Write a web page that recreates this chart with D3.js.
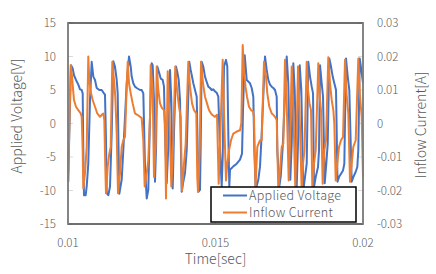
<!DOCTYPE html>
<html>
<head>
<meta charset="utf-8">
<script src="https://cdn.jsdelivr.net/npm/d3@7"></script>
<style>
  body { margin: 0; background: #fff; }
  svg text { font-family: "Noto Sans CJK JP", "Noto Sans", sans-serif; font-weight: 300; fill: #595959; }
</style>
</head>
<body>
<div id="chart"></div>
<script>
// data (time in sec)
const voltTime = [0.010010,0.010044,0.010102,0.010159,0.010203,0.010271,0.010349,0.010407,0.010464,0.010498,0.010519,0.010542,0.010600,0.010634,0.010688,0.010746,0.010803,0.010858,0.010915,0.010973,0.011061,0.011142,0.011220,0.011254,0.011288,0.011312,0.011366,0.011424,0.011481,0.011536,0.011593,0.011651,0.011685,0.011705,0.011739,0.011820,0.011875,0.011990,0.012068,0.012126,0.012159,0.012214,0.012271,0.012329,0.012441,0.012498,0.012553,0.012610,0.012668,0.012722,0.012780,0.012837,0.012871,0.012915,0.012949,0.012983,0.013027,0.013095,0.013143,0.013210,0.013254,0.013288,0.013346,0.013400,0.013458,0.013502,0.013549,0.013593,0.013661,0.013705,0.013753,0.013797,0.013854,0.013909,0.013966,0.014024,0.014112,0.014159,0.014204,0.014248,0.014305,0.014363,0.014397,0.014417,0.014475,0.014499,0.014532,0.014587,0.014644,0.014702,0.014756,0.014814,0.014871,0.014926,0.014983,0.015041,0.015095,0.015153,0.015210,0.015244,0.015288,0.015356,0.015400,0.015434,0.015468,0.015492,0.015604,0.015719,0.015831,0.015899,0.015933,0.015990,0.016058,0.016170,0.016227,0.016282,0.016316,0.016363,0.016451,0.016509,0.016566,0.016678,0.016736,0.016790,0.016848,0.016905,0.016960,0.017017,0.017075,0.017095,0.017163,0.017211,0.017278,0.017414,0.017468,0.017536,0.017583,0.017638,0.017685,0.017753,0.017797,0.017855,0.017909,0.017977,0.018034,0.018092,0.018146,0.018204,0.018261,0.018306,0.018339,0.018397,0.018475,0.018509,0.018543,0.018600,0.018645,0.018702,0.018756,0.018804,0.018858,0.018916,0.018973,0.019028,0.019085,0.019136,0.019187,0.019255,0.019323,0.019367,0.019424,0.019482,0.019536,0.019617,0.019672,0.019753,0.019807,0.019841,0.019889,0.019943,0.020000];
const voltage = [-8.7,-1.5,8.7,8.2,7.2,6.5,5.8,5.1,5.0,4.5,-4.0,-10.7,-10.7,-9.4,-6.0,3.5,9.2,7.0,6.5,5.3,5.0,5.0,4.5,4.3,-2.5,-10.4,-10.7,-9.4,-1.5,9.3,8.5,6.5,4.5,-1.5,-10.5,-8.4,-4.0,6.0,10.0,8.5,7.0,6.0,5.5,5.3,5.0,5.0,4.5,-6.4,-11.2,-9.9,1.0,9.0,8.7,3.5,-8.7,-4.0,8.5,7.5,6.7,6.5,5.5,-1.5,-8.9,-3.5,8.0,3.5,-9.7,-1.5,8.5,7.7,6.5,3.5,-10.2,-8.7,-7.4,-4.0,9.2,8.0,7.0,6.0,5.0,4.0,-4.0,-10.2,-9.9,-3.0,9.2,8.5,7.0,6.2,5.5,5.3,5.0,5.1,4.8,4.6,4.0,-4.0,-9.4,-5.0,8.5,9.5,8.5,-1.5,-9.4,-6.9,-6.4,-6.0,-5.4,-4.5,2.0,10.2,6.5,6.0,5.3,4.0,-4.0,-9.9,-8.4,-6.4,-1.5,10.0,8.0,6.5,5.8,5.5,5.3,5.0,4.0,-4.0,-9.4,-7.9,-3.5,10.0,6.0,-8.4,-3.0,9.0,5.0,-9.4,-3.0,8.7,5.0,-10.0,-8.0,-6.0,9.2,7.0,5.5,4.5,-9.5,-8.0,-6.5,-4.0,8.7,6.0,4.0,-8.9,-6.0,-3.0,9.7,8.5,7.0,6.0,5.0,-8.7,-8.0,-7.5,-7.0,-6.0,9.7,7.0,5.0,-8.7,-8.0,-7.2,-6.5,-4.0,9.7,8.0,6.0];

const currTime = [0.010010,0.010092,0.010136,0.010203,0.010271,0.010349,0.010431,0.010464,0.010498,0.010519,0.010576,0.010634,0.010688,0.010722,0.010780,0.010837,0.010915,0.010993,0.011085,0.011142,0.011197,0.011231,0.011264,0.011288,0.011346,0.011400,0.011448,0.011502,0.011559,0.011603,0.011651,0.011695,0.011763,0.011820,0.011875,0.011932,0.011990,0.012024,0.012068,0.012126,0.012193,0.012271,0.012349,0.012441,0.012498,0.012553,0.012600,0.012668,0.012722,0.012780,0.012803,0.012871,0.012915,0.012973,0.013007,0.013061,0.013119,0.013186,0.013254,0.013288,0.013322,0.013380,0.013434,0.013502,0.013549,0.013637,0.013695,0.013763,0.013820,0.013864,0.013932,0.013990,0.014078,0.014136,0.014204,0.014271,0.014349,0.014383,0.014407,0.014465,0.014509,0.014577,0.014644,0.014712,0.014780,0.014848,0.014915,0.014983,0.015051,0.015108,0.015176,0.015244,0.015298,0.015356,0.015400,0.015458,0.015526,0.015604,0.015719,0.015831,0.015875,0.015922,0.015966,0.016017,0.016068,0.016136,0.016204,0.016271,0.016305,0.016356,0.016417,0.016509,0.016566,0.016644,0.016712,0.016756,0.016824,0.016905,0.016960,0.017017,0.017075,0.017129,0.017187,0.017244,0.017299,0.017356,0.017414,0.017482,0.017526,0.017583,0.017638,0.017705,0.017746,0.017797,0.017848,0.017922,0.017966,0.018017,0.018092,0.018136,0.018187,0.018238,0.018282,0.018339,0.018397,0.018485,0.018532,0.018577,0.018634,0.018688,0.018746,0.018824,0.018882,0.018939,0.018994,0.019028,0.019075,0.019129,0.019187,0.019255,0.019323,0.019390,0.019448,0.019502,0.019560,0.019617,0.019672,0.019753,0.019841,0.019899,0.019956,0.020000];
const current = [-0.0148,0.0174,0.0140,0.0070,0.0050,0.0040,0.0030,0.0020,-0.0080,-0.0194,-0.0148,-0.0070,0.0200,0.0130,0.0090,0.0070,0.0050,0.0030,0.0020,0.0026,0.0030,0.0010,-0.0128,-0.0208,-0.0128,-0.0090,-0.0070,0.0184,0.0130,0.0080,-0.0030,-0.0208,-0.0148,-0.0070,-0.0050,-0.0040,0.0110,0.0184,0.0120,0.0090,0.0060,0.0030,0.0026,0.0020,0.0016,-0.0050,-0.0188,-0.0148,-0.0110,0.0020,0.0174,0.0100,-0.0160,-0.0060,0.0170,0.0100,0.0060,0.0046,0.0040,0.0000,-0.0224,0.0156,0.0040,-0.0188,-0.0100,0.0170,0.0100,0.0050,0.0020,-0.0200,-0.0120,-0.0060,0.0184,0.0110,0.0060,0.0040,0.0030,-0.0160,-0.0204,-0.0080,0.0184,0.0120,0.0080,0.0060,0.0040,0.0030,0.0024,0.0020,0.0026,-0.0180,0.0000,0.0190,0.0000,-0.0170,-0.0120,-0.0080,-0.0050,-0.0030,-0.0024,-0.0020,0.0000,0.0234,0.0160,0.0110,0.0080,0.0050,0.0040,0.0036,0.0020,-0.0190,-0.0070,-0.0050,-0.0050,0.0184,0.0140,0.0090,0.0050,0.0030,0.0026,0.0020,0.0010,-0.0198,-0.0140,-0.0070,-0.0060,0.0190,0.0060,-0.0170,-0.0060,0.0170,0.0040,-0.0190,-0.0060,0.0170,0.0040,-0.0200,-0.0120,-0.0080,0.0184,0.0100,0.0060,0.0040,-0.0190,-0.0120,-0.0080,0.0180,0.0080,0.0040,-0.0180,-0.0080,-0.0050,0.0198,0.0120,0.0070,0.0040,0.0000,-0.0170,-0.0120,-0.0070,-0.0050,-0.0040,0.0190,0.0080,0.0030,-0.0174,-0.0120,-0.0070,-0.0050,0.0194,0.0080,0.0020,-0.0160];

const xTicks = [0.01, 0.015, 0.02];
const xTickLabels = ["0.01", "0.015", "0.02"];
const yLeftTicks = [15, 10, 5, 0, -5, -10, -15];
const yRightTicks = [0.03, 0.02, 0.01, 0, -0.01, -0.02, -0.03];
const yRightLabels = ["0.03", "0.02", "0.01", "0", "-0.01", "-0.02", "-0.03"];
const seriesNames = ["Applied Voltage", "Inflow Current"];
const colors = ["#4472C4", "#ED7D31"];

const width = 436, height = 274;
const margin = {top: 23, right: 73, bottom: 50, left: 68};
const innerWidth = width - margin.left - margin.right;
const innerHeight = height - margin.top - margin.bottom;

const svg = d3.select("#chart").append("svg")
    .attr("width", width).attr("height", height);

const g = svg.append("g")
    .attr("transform", `translate(${margin.left},${margin.top})`);

const xScale = d3.scaleLinear().domain([0.01, 0.02]).range([0, innerWidth]);
const yLeft = d3.scaleLinear().domain([-15, 15]).range([innerHeight, 0]);
const yRight = d3.scaleLinear().domain([-0.03, 0.03]).range([innerHeight, 0]);

// small inner tick marks
yLeftTicks.forEach(v => {
    g.append("line").attr("x1", 0).attr("x2", 5)
        .attr("y1", yLeft(v)).attr("y2", yLeft(v))
        .attr("stroke", "#d9d9d9").attr("stroke-width", 1);
});
yRightTicks.forEach(v => {
    g.append("line").attr("x1", innerWidth - 5).attr("x2", innerWidth)
        .attr("y1", yRight(v)).attr("y2", yRight(v))
        .attr("stroke", "#d9d9d9").attr("stroke-width", 1);
});
xTicks.forEach(v => {
    g.append("line").attr("x1", xScale(v)).attr("x2", xScale(v))
        .attr("y1", innerHeight - 5).attr("y2", innerHeight)
        .attr("stroke", "#d9d9d9").attr("stroke-width", 1);
});

const voltData = voltTime.map((t, i) => ({t: t, v: voltage[i]}));
const currData = currTime.map((t, i) => ({t: t, v: current[i]}));

g.append("path").datum(voltData)
    .attr("fill", "none").attr("stroke", colors[0]).attr("stroke-width", 2)
    .attr("stroke-linejoin", "round")
    .attr("d", d3.line().x(d => xScale(d.t)).y(d => yLeft(d.v)));

g.append("path").datum(currData)
    .attr("fill", "none").attr("stroke", colors[1]).attr("stroke-width", 2)
    .attr("stroke-linejoin", "round")
    .attr("d", d3.line().x(d => xScale(d.t)).y(d => yRight(d.v)));

// plot frame: dark border, grey axis lines on the sides
g.append("rect")
    .attr("width", innerWidth).attr("height", innerHeight)
    .attr("fill", "none").attr("stroke", "#404040").attr("stroke-width", 1.5);
[0, innerWidth].forEach(xx => {
    g.append("line").attr("x1", xx).attr("x2", xx).attr("y1", 0).attr("y2", innerHeight)
        .attr("stroke", "#8c8c8c").attr("stroke-width", 1.5);
});

// tick labels
yLeftTicks.forEach(v => {
    g.append("text").attr("x", -12).attr("y", yLeft(v)).attr("dy", "0.35em")
        .attr("text-anchor", "end").style("font-size", "11.5px").text(v);
});
yRightTicks.forEach((v, i) => {
    g.append("text").attr("x", innerWidth + 14).attr("y", yRight(v)).attr("dy", "0.35em")
        .style("font-size", "11.5px").text(yRightLabels[i]);
});
xTicks.forEach((v, i) => {
    g.append("text").attr("x", xScale(v)).attr("y", innerHeight + 19).attr("dy", "0.35em")
        .attr("text-anchor", "middle").style("font-size", "11.5px").text(xTickLabels[i]);
});

// axis titles
svg.append("text").attr("x", margin.left + innerWidth / 2).attr("y", 264)
    .attr("text-anchor", "middle").style("font-size", "14px").text("Time[sec]");
svg.append("text").attr("transform", "translate(22,116) rotate(-90)")
    .attr("text-anchor", "middle").style("font-size", "14px").text("Applied Voltage[V]");
svg.append("text").attr("transform", "translate(426,125) rotate(-90)")
    .attr("text-anchor", "middle").style("font-size", "14px").text("Inflow Current[A]");

// legend
const legend = svg.append("g").attr("transform", "translate(211,187)");
legend.append("rect").attr("width", 145).attr("height", 35)
    .attr("fill", "#fff").attr("stroke", "#000").attr("stroke-width", 1.5);
seriesNames.forEach((name, i) => {
    const yy = 8.5 + i * 17;
    legend.append("line").attr("x1", 12).attr("x2", 36).attr("y1", yy).attr("y2", yy)
        .attr("stroke", colors[i]).attr("stroke-width", 2);
    legend.append("text").attr("x", 38).attr("y", yy).attr("dy", "0.35em")
        .style("font-size", "12.5px").style("letter-spacing", "0.3px").text(name);
});
</script>
</body>
</html>
